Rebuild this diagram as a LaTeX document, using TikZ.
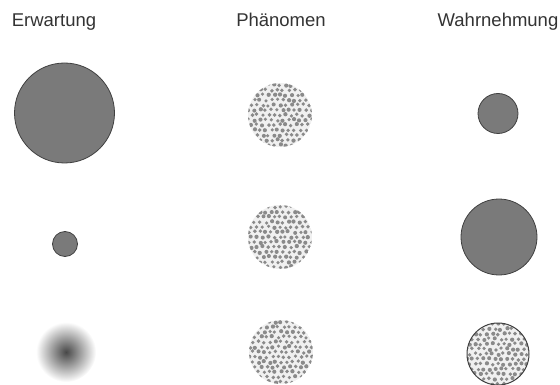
\documentclass[tikz,border=0pt]{standalone}
\usepackage{fontspec}
\setmainfont{Liberation Sans}
\begin{document}
\begin{tikzpicture}[x=1pt,y=-1pt,
  solidcirc/.style={fill=black!52, draw=black!75, line width=0.8pt},
  lbl/.style={anchor=base, text=black!80, font=\fontsize{18.5}{20}\selectfont, inner sep=0pt},
  dotfill/.style={fill=black!46}]
\useasboundingbox (0,0) rectangle (560,385);
\newcommand\stipplecirc[4]{%
  \begin{scope}
    \clip (#1,#2) circle (#3);
    \fill[black!6] (#1,#2) circle (#3);
    \pgfmathsetseed{#4}
    \foreach \j in {-8,...,8}{
      \foreach \i in {-7,...,7}{
        \pgfmathsetmacro\dx{\i*5.7+mod(\j,2)*2.85+rand*1.0}
        \pgfmathsetmacro\dy{\j*5.0+rand*1.0}
        \pgfmathsetmacro\rr{1.95+rand*0.2}
        \fill[dotfill] (#1+\dx,#2+\dy) circle (\rr);
      }
    }
  \end{scope}}
% labels
\node[lbl] (e) at (54,27) {Erwartung};
\node[lbl] (p) at (281,27) {Phänomen};
\node[lbl] (w) at (498,27) {Wahrnehmung};
% Erwartung column
\path[solidcirc] (64.5,113) circle (50) node (e1) {};
\path[solidcirc] (65,244) circle (12.5) node (e2) {};
\shade[inner color=black!72, outer color=white] (66,352) circle (30) node (e3) {};
% Phaenomen column
\stipplecirc{280}{115}{32}{11}
\stipplecirc{280}{237}{32}{23}
\stipplecirc{281}{352}{32}{37}
\node (p1) at (280,115) {};
\node (p2) at (280,237) {};
\node (p3) at (281,352) {};
% Wahrnehmung column
\path[solidcirc] (498,113.5) circle (20) node (w1) {};
\path[solidcirc] (499,237) circle (38) node (w2) {};
\stipplecirc{498}{354}{31}{53}
\draw[black!75, line width=1pt] (498,354) circle (31) node (w3) {};
\end{tikzpicture}
\end{document}
